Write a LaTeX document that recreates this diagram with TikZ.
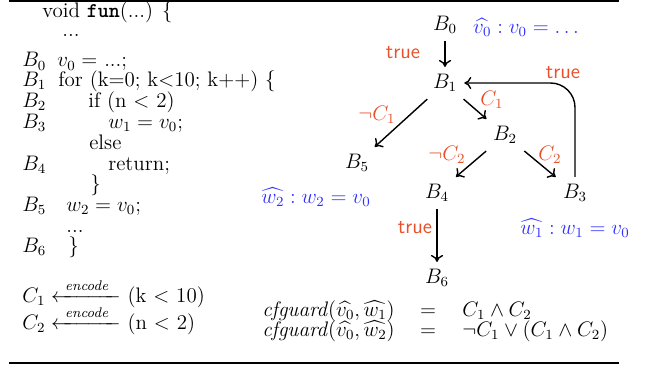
\documentclass[tikz,border=0pt,12pt]{standalone}
\usepackage{amsmath,amssymb}
\usepackage{xcolor}
\usepackage{tikz}
\usetikzlibrary{arrows.meta,positioning,calc}
\definecolor{pred}{HTML}{E8502A}
\definecolor{pblue}{HTML}{2E2EFF}
\tikzset{
  % one line of the listing, placed by its baseline
  code/.style = {anchor=base west, inner sep=0pt},
  blk/.style  = {inner sep=4pt},
  lane/.style = {-{To[length=4pt,width=7pt]}, thick},
  cond/.style = {text=pred, inner sep=1pt},
  tag/.style  = {text=pred, font=\sffamily, inner sep=1pt},
  note/.style = {text=pblue, inner sep=1pt},
  rule/.style = {line width=0.8pt},
}

\begin{document}
\begin{tikzpicture}[x=0.5714pt, y=-0.5714pt]
\useasboundingbox (0,0) rectangle (646,364);
% rules
\coordinate (tl) at (9,1);   \coordinate (tr) at (619,1);
\coordinate (bl) at (9,363); \coordinate (br) at (619,363);
\draw[rule] (tl) -- (tr);
\draw[rule] (bl) -- (br);
% listing
\node[code] (head) at (42,18)  {void \texttt{\textbf{fun}}(...) \{};
\node[code] (dots1) at (62,37) {...};
\node[code] (lb0) at (22,67)   {$B_0$};
\node[code] (ln0) at (57,67)   {$v_0 =$ ...;};
\node[code] (lb1) at (22,86.5) {$B_1$};
\node[code] (ln1) at (58,86.5) {for (k=0; k$<$10; k++) \{};
\node[code] (lb2) at (22,107)  {$B_2$};
\node[code] (ln2) at (88,107)  {if (n $<$ 2)};
\node[code] (lb3) at (22,128){$B_3$};
\node[code] (ln3) at (108,128){$w_1 = v_0$;};
\node[code] (lelse) at (89,149) {else};
\node[code] (lb4) at (22,170){$B_4$};
\node[code] (ln4) at (108,170){return;};
\node[code] (lcl) at (90,190.5)  {\}};
\node[code] (lb5) at (22,211.5){$B_5$};
\node[code] (ln5) at (66,211.5){$w_2 = v_0$;};
\node[code] (dots2) at (66,232){...};
\node[code] (lb6) at (22,252.5){$B_6$};
\node[code] (ln6) at (68,252.5){\}};
% encodings
\node[code] (enc1) at (22,302) {$C_1 \xleftarrow{\hspace{4pt}\mathit{encode}\hspace{4pt}}$ (k $<$ 10)};
\node[code] (enc2) at (22,329) {$C_2 \xleftarrow{\hspace{4pt}\mathit{encode}\hspace{4pt}}$ (n $<$ 2)};
% graph
\node[blk] (n0) at (445,25)  {$B_0$};
\node[blk] (n1) at (445,83)  {$B_1$};
\node[blk] (n2) at (505,135) {$B_2$};
\node[blk] (n5) at (357,163) {$B_5$};
\node[blk] (n4) at (437,193) {$B_4$};
\node[blk] (n3) at (575,193) {$B_3$};
\node[blk] (n6) at (437,278) {$B_6$};
\foreach \a/\b in {n0/n1,n1/n5,n1/n2,n2/n4,n2/n3,n4/n6} {\draw[lane] (\a) -- (\b);}
\draw[lane, rounded corners=14pt] (n3.north) |- (n1.east);
% edge labels
\node[tag] (t0) at (403,53)  {true};
\node[tag] (t1) at (563,73)  {true};
\node[tag] (t2) at (415,228) {true};
\node[cond] (k1n) at (377,115) {$\neg C_1$};
\node[cond] (k1)  at (492,100) {$C_1$};
\node[cond] (k2n) at (447,155) {$\neg C_2$};
\node[cond] (k2)  at (550,155) {$C_2$};
% value annotations
\node[note] (a0) at (526,27)  {$\widehat{v_0} : v_0 = \ldots$};
\node[note] (a2) at (316,197) {$\widehat{w_2} : w_2 = v_0$};
\node[note] (a1) at (575,228) {$\widehat{w_1} : w_1 = v_0$};
% guards
\node[code, anchor=base east] (g1) at (395,316) {\textit{cfguard}$(\widehat{v_0}, \widehat{w_1})$};
\node[code, anchor=base] (q1) at (428,316) {$=$};
\node[code] (r1) at (462,316) {$C_1 \wedge C_2$};
\node[code, anchor=base east] (g2) at (395,336) {\textit{cfguard}$(\widehat{v_0}, \widehat{w_2})$};
\node[code, anchor=base] (q2) at (428,336) {$=$};
\node[code] (r2) at (462,336) {$\neg C_1 \vee (C_1 \wedge C_2)$};
\end{tikzpicture}
\end{document}
